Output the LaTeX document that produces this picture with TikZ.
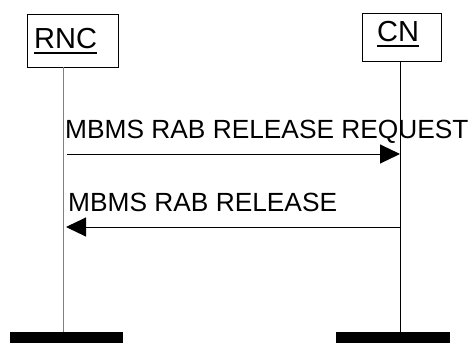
\documentclass[tikz,border=0pt]{standalone}
\usepackage{fontspec}
\setmainfont{Liberation Sans}
\usetikzlibrary{arrows.meta}
\begin{document}
\begin{tikzpicture}[x=1pt,y=-1pt,
  entity/.style={draw=black,line width=0.8pt,inner sep=0,minimum width=#1},
  ename/.style={anchor=base west,inner sep=0,font=\fontsize{29}{32}\selectfont},
  msgtext/.style={anchor=base west,inner sep=0,font=\fontsize{26.3}{30}\selectfont},
  msg/.style={line width=1pt,-{Triangle[length=20pt,width=19pt]}},
  bar/.style={fill=black,inner sep=0,anchor=north west},
  uline/.style={line width=2pt}]
\useasboundingbox (0,0) rectangle (470,343);
% entity boxes
\node[entity=91pt,minimum height=53pt] (rncbox) at (72.5,40.5) {};
\node[entity=79pt,minimum height=48pt] (cnbox) at (401.5,37) {};
\node[ename] (rnct) at (34,48) {RNC};
\node[ename] (cnt) at (377,41) {CN};
\draw[uline] ([yshift=-5pt]rnct.base west) -- ([yshift=-5pt]rnct.base east);
\draw[uline] ([yshift=-5pt]cnt.base west) -- ([yshift=-5pt]cnt.base east);
% bottom bars
\node[bar,minimum width=113pt,minimum height=11pt] (rncbar) at (10,332) {};
\node[bar,minimum width=114pt,minimum height=11pt] (cnbar) at (336,332) {};
% lifelines
\coordinate (rnctop) at (63,67);
\coordinate (rncbot) at (63,332);
\coordinate (cntop) at (400,61);
\coordinate (cnbot) at (400,332);
\draw[line width=1pt,draw=gray] (rnctop) -- (rncbot);
\draw[line width=1pt,draw=black] (cntop) -- (cnbot);
% messages
\coordinate (m1s) at (67,154);
\coordinate (m1e) at (400,154);
\coordinate (m2s) at (400,227);
\coordinate (m2e) at (66,227);
\draw[msg] (m1s) -- (m1e);
\draw[msg] (m2s) -- (m2e);
\node[msgtext] (l1) at (65,138) {MBMS RAB RELEASE REQUEST};
\node[msgtext] (l2) at (68,211) {MBMS RAB RELEASE};
\end{tikzpicture}
\end{document}
